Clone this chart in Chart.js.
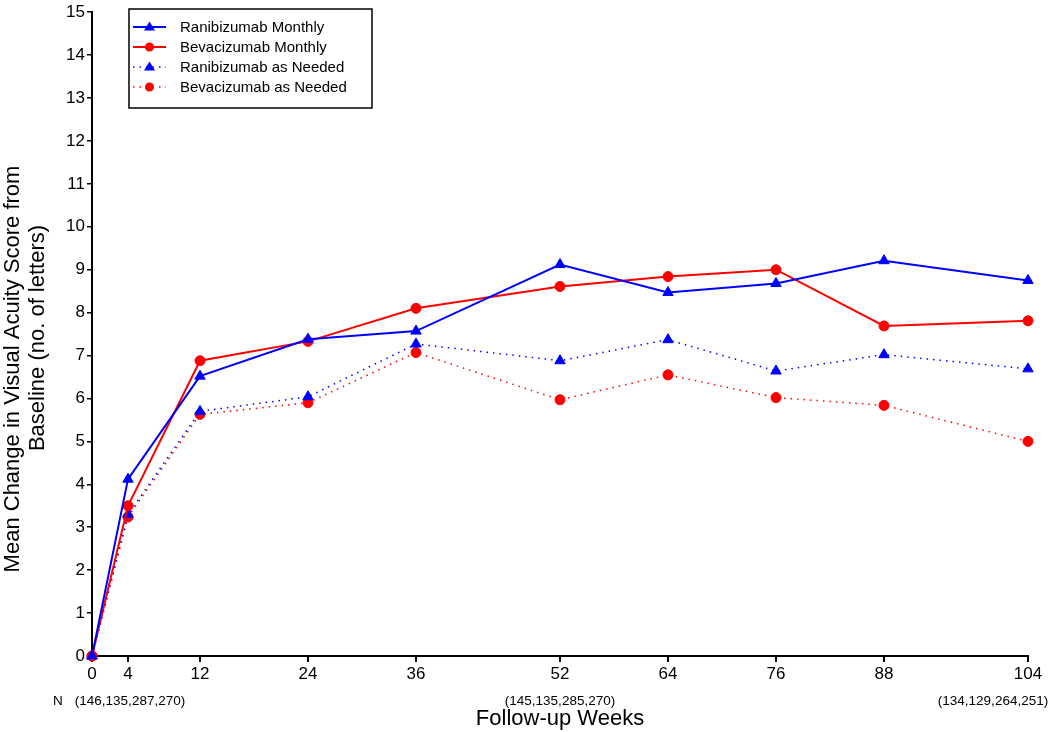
<!DOCTYPE html>
<html><head><meta charset="utf-8">
<script src="https://cdn.jsdelivr.net/npm/chart.js@4/dist/chart.umd.min.js"></script>
<style>html,body{margin:0;padding:0;background:#fff}#wrap{width:1050px;height:732px}</style>
</head><body><div id="wrap"><canvas id="c" width="1050" height="732"></canvas></div>
<script>
const weeks = [0, 4, 12, 24, 36, 52, 64, 76, 88, 104];
const xTicks = [0, 4, 12, 24, 36, 52, 64, 76, 88, 104];
const ranibizumabMonthly = [0, 4.12, 6.52, 7.38, 7.57, 9.12, 8.47, 8.68, 9.21, 8.75];
const bevacizumabMonthly = [0, 3.50, 6.88, 7.33, 8.10, 8.61, 8.84, 9.00, 7.69, 7.81];
const ranibizumabPRN = [0, 3.30, 5.70, 6.04, 7.27, 6.88, 7.37, 6.64, 7.02, 6.69];
const bevacizumabPRN = [0, 3.24, 5.63, 5.90, 7.07, 5.97, 6.55, 6.02, 5.84, 5.00];
const nWeeks = [4, 52, 104];
const nLabels = ["(146,135,287,270)", "(145,135,285,270)", "(134,129,264,251)"];
const yTitleLines = ["Mean Change in Visual Acuity Score from", "Baseline (no. of letters)"];
const FONT = "'Liberation Sans', Arial, sans-serif";

function pts(arr){ return weeks.map((w,i)=>({x:w,y:arr[i]})); }

const datasets = [
  {label:"Ranibizumab Monthly", data:pts(ranibizumabMonthly), borderColor:"#0000ff", borderWidth:2, pointStyle:"triangle", pointRadius:6, borderDash:[]},
  {label:"Bevacizumab Monthly", data:pts(bevacizumabMonthly), borderColor:"#ff0000", borderWidth:2, pointStyle:"circle", pointRadius:5, borderDash:[]},
  {label:"Ranibizumab as Needed", data:pts(ranibizumabPRN), borderColor:"#0000ff", borderWidth:1.5, pointStyle:"triangle", pointRadius:6, borderDash:[1.5,5]},
  {label:"Bevacizumab as Needed", data:pts(bevacizumabPRN), borderColor:"#ff0000", borderWidth:1.5, pointStyle:"circle", pointRadius:5, borderDash:[1.5,5]}
];
datasets.forEach(d=>{d.tension=0;d.fill=false;d.backgroundColor=d.borderColor;d.pointBorderWidth=1;d.pointBorderColor=d.borderColor;d.pointBackgroundColor=d.borderColor;d.clip=false;});

const extras = {
  id:"extras",
  afterDraw(chart){
    const ctx = chart.ctx, xs = chart.scales.x;
    ctx.save();
    ctx.fillStyle = "#000";
    ctx.font = "22px " + FONT;
    ctx.textAlign = "center"; ctx.textBaseline = "middle";
    [[13,369],[38,338]].forEach((p,i)=>{
      ctx.save(); ctx.translate(p[0],p[1]); ctx.rotate(-Math.PI/2);
      ctx.fillText(yTitleLines[i],0,0); ctx.restore();
    });
    ctx.font = "13.5px " + FONT;
    ctx.textBaseline = "middle";
    ctx.textAlign = "center";
    nWeeks.forEach((w,i)=>{
      let px = xs.getPixelForValue(w);
      if (i===0) px = 130;
      if (i===2) px = 993;
      ctx.fillText(nLabels[i], px, 701);
    });
    ctx.textAlign = "left";
    ctx.fillText("N", 53, 701);
    const bx=129, by=9, bw=243, bh=99;
    ctx.fillStyle="#fff"; ctx.fillRect(bx,by,bw,bh);
    ctx.strokeStyle="#000"; ctx.lineWidth=1.5; ctx.strokeRect(bx,by,bw,bh);
    const rows=[27,47,67,87];
    chart.data.datasets.forEach((d,i)=>{
      const y=rows[i];
      ctx.strokeStyle=d.borderColor; ctx.lineWidth=d.borderWidth;
      ctx.setLineDash(d.borderDash);
      ctx.beginPath(); ctx.moveTo(133,y); ctx.lineTo(166,y); ctx.stroke();
      ctx.setLineDash([]);
      ctx.fillStyle=d.borderColor;
      if(d.pointStyle==="triangle"){
        ctx.beginPath(); ctx.moveTo(149.5,y-5.5); ctx.lineTo(155,y+3.5); ctx.lineTo(144,y+3.5); ctx.closePath(); ctx.fill();
      } else {
        ctx.beginPath(); ctx.arc(149.5,y,4.5,0,Math.PI*2); ctx.fill();
      }
      ctx.fillStyle="#000"; ctx.font="15px "+FONT; ctx.textAlign="left"; ctx.textBaseline="middle";
      ctx.fillText(d.label,180,y+1);
    });
    ctx.restore();
  }
};

new Chart(document.getElementById("c"), {
  type:"line",
  data:{datasets},
  options:{
    responsive:false, animation:false, devicePixelRatio:1,
    layout:{autoPadding:false, padding:{top:8,right:22,left:0,bottom:0}},
    plugins:{legend:{display:false}, tooltip:{enabled:false}},
    scales:{
      x:{type:"linear", min:0, max:104,
        afterBuildTicks(s){ s.ticks = xTicks.map(v=>({value:v})); },
        afterFit(s){ s.height = 76; },
        ticks:{color:"#000", font:{family:FONT,size:17}, padding:2, maxRotation:0, autoSkip:false},
        grid:{display:true, drawOnChartArea:false, drawTicks:true, tickLength:6, color:"#000", lineWidth:2},
        border:{display:true, color:"#000", width:2},
        title:{display:true, text:"Follow-up Weeks", color:"#000", font:{family:FONT,size:22}, padding:{top:26,bottom:0}}
      },
      y:{min:0, max:15,
        afterFit(s){ s.width = 92; },
        ticks:{stepSize:1, color:"#000", font:{family:FONT,size:17}, padding:2},
        grid:{display:true, drawOnChartArea:false, drawTicks:true, tickLength:5, color:"#000", lineWidth:1.5},
        border:{display:true, color:"#000", width:2},
        title:{display:false}
      }
    }
  },
  plugins:[extras]
});
</script>
</body></html>
